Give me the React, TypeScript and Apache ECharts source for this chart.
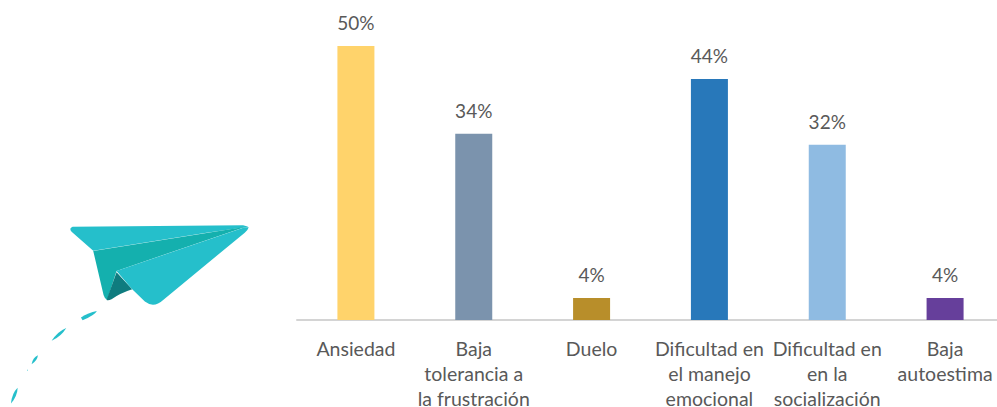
import React, { useEffect, useRef } from "react";
import * as echarts from "echarts";

const categories = [
  "Ansiedad",
  "Baja\ntolerancia a\nla frustración",
  "Duelo",
  "Dificultad en\nel manejo\nemocional",
  "Dificultad en\nen la\nsocialización",
  "Baja\nautoestima",
];
const values = [50, 34, 4, 44, 32, 4];
const barColors = ["#FFD36B", "#7B93AD", "#B88E2A", "#2878BA", "#8FBBE2", "#663F9B"];

const planeShapes: [string, string, string][] = [
  ["planeTop", "M218 50 L730 46 L746 50 L620 68 L280 122 L215 65 Q206 55 218 50 Z", "#25BFCB"],
  ["planeMid", "M280 123 L738 50 L350 183 L322 270 Q314 266 311 255 Z", "#14B0AE"],
  ["planeDark", "M350 187 L397 238 Q360 250 335 268 Q326 272 320 270 Z", "#0F7C7F"],
  ["planeRight", "M350 183 L735 52 L747 52 Q745 60 735 68 L490 270 Q462 296 435 275 L397 238 Z", "#25BFCB"],
  ["dash1", "M243 323 Q265 308 291 303 Q285 315 248 331 Z", "#25BFCB"],
  ["dash2", "M155 393 Q172 365 199 354 Q185 378 155 393 Z", "#25BFCB"],
  ["dash3", "M95 463 Q98 443 114 436 Q112 452 95 463 Z", "#25BFCB"],
  ["dash4", "M33 581 Q36 550 53 534 Q52 560 33 581 Z", "#25BFCB"],
  ["dash5", "M81 483 L84 478 L84 482 Z", "#25BFCB"],
];
planeShapes.forEach(([name, d]) => {
  echarts.graphic.registerShape(name, echarts.graphic.extendPath(d, {}) as any);
});

const FONT = "Lato";
const TEXT = "#595959";

export default function App() {
  const ref = useRef<HTMLDivElement>(null);
  useEffect(() => {
    document.body.style.margin = "0";
    const chart = echarts.init(ref.current!, undefined, { renderer: "svg" });
    chart.setOption({
      animation: false,
      backgroundColor: "#FFFFFF",
      grid: { left: 297, top: 46, width: 707, height: 274, outerBoundsMode: "none" },
      xAxis: {
        type: "category",
        data: categories,
        axisTick: { show: false },
        axisLine: { lineStyle: { color: "#D4D4D4", width: 2 } },
        axisLabel: {
          color: TEXT,
          fontFamily: FONT,
          fontSize: 19.5,
          lineHeight: 25,
          margin: 16,
          interval: 0,
          hideOverlap: false,
          align: "center",
          verticalAlign: "top",
        },
      },
      yAxis: { type: "value", min: 0, max: 50, show: false, splitLine: { show: false } },
      series: [
        {
          type: "bar",
          data: values.map((v, i) => ({ value: v, itemStyle: { color: barColors[i] } })),
          barWidth: 37,
          label: {
            show: true,
            position: "top",
            distance: 14,
            color: TEXT,
            fontFamily: FONT,
            fontSize: 19,
            formatter: "{c}%",
          },
        },
      ],
      graphic: planeShapes.map(([name, , color]) => ({
        type: name,
        x: 0,
        y: 210,
        scaleX: 1 / 3,
        scaleY: 1 / 3,
        silent: true,
        style: { fill: color },
      })),
    });
    return () => chart.dispose();
  }, []);
  return <div ref={ref} style={{ width: 997, height: 407, overflow: "hidden" }} />;
}
